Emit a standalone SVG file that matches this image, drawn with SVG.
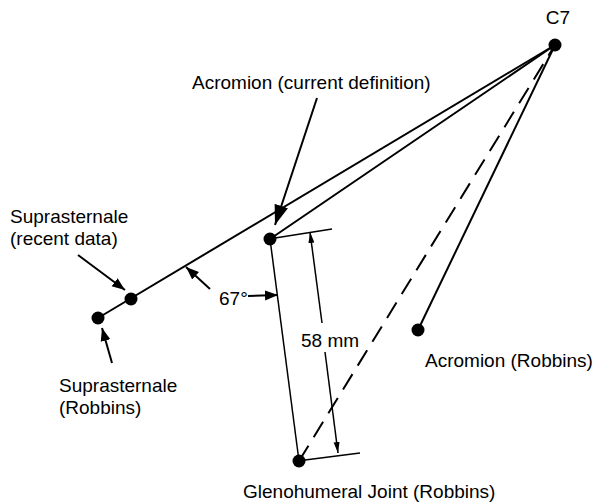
<svg xmlns="http://www.w3.org/2000/svg" width="600" height="504" viewBox="0 0 600 504">
<style>
text{font-family:"Liberation Sans",Arial,Helvetica,sans-serif;font-size:19px;fill:#000}
.ln{stroke:#000;stroke-width:2;fill:none}
.thin{stroke:#000;stroke-width:1.5;fill:none}
.dash{stroke:#000;stroke-width:2;fill:none;stroke-dasharray:18 10}
.dot{fill:#000}
</style>
<defs>
<marker id="big" markerUnits="userSpaceOnUse" markerWidth="22" markerHeight="16" refX="20" refY="8" orient="auto">
<path d="M0,1 L20,8 L0,15 Z" fill="#000"/>
</marker>
<marker id="mid" markerUnits="userSpaceOnUse" markerWidth="14" markerHeight="12" refX="13" refY="6" orient="auto">
<path d="M0,1 L13,6 L0,11 Z" fill="#000"/>
</marker>
<marker id="dim" markerUnits="userSpaceOnUse" markerWidth="12" markerHeight="8" refX="11" refY="4" orient="auto">
<path d="M0,1 L11,4 L0,7 Z" fill="#000"/>
</marker>
</defs>
<g id="connectors">
<line class="ln" x1="98" y1="318" x2="555" y2="45"/>
<line class="ln" x1="270" y1="239" x2="555" y2="45"/>
<line class="thin" x1="270" y1="239" x2="299" y2="461"/>
<line class="dash" x1="299" y1="461" x2="555" y2="45"/>
<line class="ln" x1="418" y1="330" x2="555" y2="45"/>
<line class="thin" x1="275" y1="238" x2="332" y2="229"/>
<line class="thin" x1="305" y1="460" x2="360" y2="453"/>
<line class="thin" x1="322" y1="323" x2="310" y2="232" marker-end="url(#dim)"/>
<line class="thin" x1="325" y1="352" x2="338" y2="453" marker-end="url(#dim)"/>
<line class="ln" x1="317" y1="98" x2="275" y2="225" marker-end="url(#big)"/>
<line class="ln" x1="78" y1="255" x2="125" y2="290" marker-end="url(#mid)"/>
<line class="ln" x1="112" y1="363" x2="102" y2="328" marker-end="url(#mid)"/>
<line class="ln" x1="210" y1="289" x2="186" y2="267" marker-end="url(#mid)"/>
<line class="ln" x1="248" y1="296" x2="278" y2="295" marker-end="url(#mid)"/>
</g>
<g id="c7"><circle class="dot" cx="555" cy="45" r="6.5"/><text x="558" y="24" text-anchor="middle">C7</text></g>
<g id="acromion-current"><circle class="dot" cx="270" cy="239" r="6.5"/><text x="192" y="89">Acromion (current definition)</text></g>
<g id="suprasternale-recent"><circle class="dot" cx="131" cy="299" r="6.5"/><text x="10" y="223">Suprasternale</text><text x="10" y="245">(recent data)</text></g>
<g id="suprasternale-robbins"><circle class="dot" cx="98" cy="318" r="6.5"/><text x="59" y="392">Suprasternale</text><text x="59" y="414">(Robbins)</text></g>
<g id="glenohumeral"><circle class="dot" cx="299" cy="461" r="6.5"/><text x="243" y="498">Glenohumeral Joint (Robbins)</text></g>
<g id="acromion-robbins"><circle class="dot" cx="418" cy="330" r="6.5"/><text x="425" y="367">Acromion (Robbins)</text></g>
<g id="labels"><text x="219" y="305">67°</text><text x="301" y="347">58 mm</text></g>
</svg>
